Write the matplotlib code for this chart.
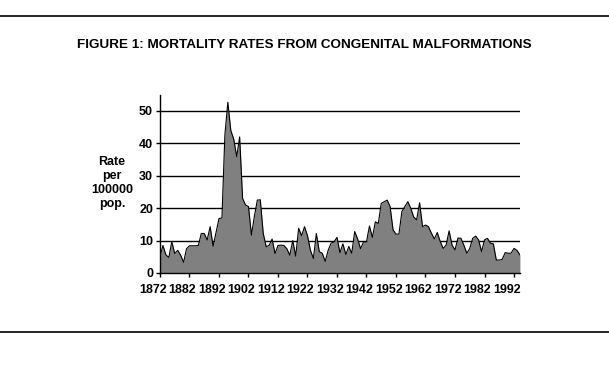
import matplotlib
matplotlib.use('Agg')
import matplotlib.pyplot as plt
import matplotlib.transforms as mtransforms
from matplotlib.lines import Line2D
import numpy as np

# Data (deaths per 100000 pop., 1872-1994)
years = list(range(1872, 1995))
rates = [
    5.0, 8.5, 5.6, 4.8, 9.7, 6.0, 7.0, 5.5, 3.3, 7.5,      # 1872-1881
    8.4, 8.4, 8.4, 8.5, 12.2, 12.2, 10.2, 14.3, 8.3, 12.5, # 1882-1891
    16.8, 17.0, 42.6, 52.7, 44.0, 41.3, 35.9, 42.0, 23.0, 21.0,  # 1892-1901
    20.5, 11.7, 17.5, 22.5, 22.6, 12.2, 8.1, 8.5, 10.5, 6.0,     # 1902-1911
    8.5, 8.6, 8.5, 7.5, 5.5, 10.0, 5.2, 13.8, 11.5, 14.3,        # 1912-1921
    11.5, 7.0, 4.5, 12.2, 6.6, 6.1, 3.6, 7.0, 9.2, 9.6,          # 1922-1931
    11.0, 6.3, 9.0, 5.7, 8.2, 6.1, 12.8, 10.5, 7.5, 9.6,         # 1932-1941
    9.6, 14.5, 11.0, 15.8, 15.3, 21.5, 22.0, 22.5, 20.5, 13.3,   # 1942-1951
    12.0, 12.0, 19.0, 20.5, 22.0, 20.0, 17.3, 16.4, 21.7, 14.3,  # 1952-1961
    14.8, 14.3, 12.3, 10.5, 12.5, 9.7, 7.6, 8.6, 13.0, 8.6,      # 1962-1971
    7.1, 10.8, 10.7, 8.6, 6.1, 7.6, 10.7, 11.4, 10.2, 6.6,       # 1972-1981
    10.2, 10.7, 9.2, 9.0, 4.0, 4.0, 4.2, 6.3, 6.1, 6.1,          # 1982-1991
    7.6, 7.0, 5.6,                                               # 1992-1994
]
yticks = [0, 10, 20, 30, 40, 50]
xticks = list(range(1872, 1993, 10))

title = 'FIGURE 1: MORTALITY RATES FROM CONGENITAL MALFORMATIONS'
ylabel = 'Rate\nper\n100000\npop.'

font = ['Liberation Sans Narrow', 'Liberation Sans', 'DejaVu Sans']
plt.rcParams['font.family'] = font

fig = plt.figure(figsize=(6.09, 3.66), dpi=100)
ax = fig.add_axes([0.2627, 0.2541, 0.591, 0.4869])

for v in yticks[1:]:
    ax.axhline(v, color='black', linewidth=1.0, zorder=1)

ax.fill_between(years, rates, 0, color='#808080', zorder=2, linewidth=0)
ax.plot(years, rates, color='black', linewidth=0.8, zorder=3)

ax.set_xlim(1872, 1994)
ax.set_ylim(0, 55)
ax.set_yticks(yticks)
ax.set_xticks(xticks)
ax.set_xticklabels([str(x) for x in xticks])

for s in ['top', 'right']:
    ax.spines[s].set_visible(False)
for s in ['left', 'bottom']:
    ax.spines[s].set_linewidth(1.0)

ax.tick_params(axis='both', direction='out', length=3, width=1.0, colors='black',
               labelsize=9)
ax.tick_params(axis='x', pad=5)
ax.tick_params(axis='y', pad=2)
for lab in ax.get_xticklabels() + ax.get_yticklabels():
    lab.set_fontweight('bold')

# shift x tick labels a little to the left, as in the original
offset = mtransforms.ScaledTranslation(-7 / 100, 0, fig.dpi_scale_trans)
for lab in ax.get_xticklabels():
    lab.set_transform(lab.get_transform() + offset)

fig.text(0.184, 0.5, ylabel, ha='center', va='center', fontsize=9,
         fontweight='bold', linespacing=1.25)

fig.text(0.5, 0.877, title, ha='center', va='center', fontsize=9.7,
         fontweight='bold', family=['Liberation Sans', 'DejaVu Sans'])

# horizontal rules at top and bottom of the page
fig.add_artist(Line2D([0, 1], [1 - 16 / 366, 1 - 16 / 366], color='black', linewidth=1.2))
fig.add_artist(Line2D([0, 1], [1 - 332 / 366, 1 - 332 / 366], color='black', linewidth=1.2))

fig.savefig('out.png', dpi=100, facecolor='white')
